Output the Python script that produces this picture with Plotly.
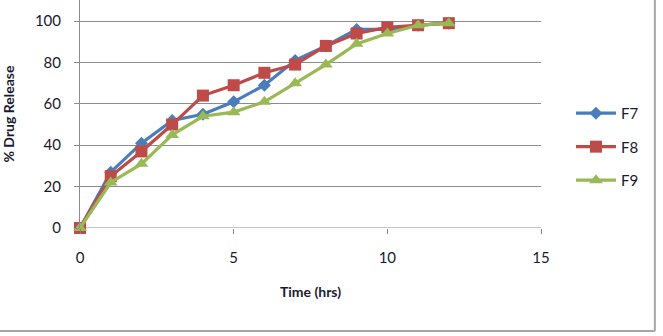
import plotly.graph_objects as go

# Cumulative drug release (%) versus time (hours)
time_hrs = [0, 1, 2, 3, 4, 5, 6, 7, 8, 9, 10, 11, 12]
f7 = [0, 27, 41, 52, 55, 61, 69, 81, 88, 96, 96, 98, 99]
f8 = [0, 25, 37, 50, 64, 69, 75, 79, 88, 94, 97, 98, 99]
f9 = [0, 22, 31, 45, 54, 56, 61, 70, 79, 89, 94, 98, 99]

series_names = ["F7", "F8", "F9"]
x_ticks = [0, 5, 10, 15]
y_ticks = [0, 20, 40, 60, 80, 100]

colors = ["#4A7EBB", "#BE4B48", "#98B954"]
symbols = ["diamond", "square", "triangle-up"]
sizes = [10, 12, 12]

font_family = "Lato, 'Open Sans', sans-serif"
text_color = "#1a1a2e"

fig = go.Figure()
for i, (name, vals) in enumerate(zip(series_names, [f7, f8, f9])):
    fig.add_trace(go.Scatter(
        x=time_hrs, y=vals, name=name, mode="lines+markers",
        legendgroup=name,
        line=dict(color=colors[i], width=3.2),
        marker=dict(symbol=symbols[i], size=sizes[i], color=colors[i],
                    line=dict(width=0)),
        cliponaxis=False,
    ))

fig.update_layout(
    width=663, height=336,
    margin=dict(l=80, r=122, t=0, b=108),
    paper_bgcolor="white", plot_bgcolor="white",
    font=dict(family=font_family, size=15, color=text_color),
    showlegend=True,
    legend=dict(
        x=1.065, y=0.575, xanchor="left", yanchor="top",
        font=dict(size=15, color=text_color),
        tracegroupgap=11, itemwidth=40,
        bgcolor="rgba(0,0,0,0)",
    ),
    xaxis=dict(
        range=[0, 15], tickvals=x_ticks, ticktext=[str(v) for v in x_ticks],
        showgrid=False, zeroline=False,
        showline=False, ticks="outside", ticklen=5, tickcolor="#868686",
        ticklabelstandoff=11,
        tickfont=dict(size=15, color=text_color),
        title=dict(text="<b>Time (hrs)</b>", font=dict(size=14, color=text_color),
                   standoff=22),
    ),
    yaxis=dict(
        range=[0, 110.2], tickvals=y_ticks, ticktext=[str(v) for v in y_ticks],
        showgrid=True, gridcolor="#8c8c8c", gridwidth=1,
        zeroline=False, showline=True, linecolor="#8c8c8c", linewidth=1,
        ticks="outside", ticklen=5, tickcolor="#8c8c8c",
        ticklabelstandoff=10,
        tickfont=dict(size=15, color=text_color),
        title=dict(text="<b>% Drug Release</b>", font=dict(size=14, color=text_color),
                   standoff=24),
    ),
)

# x axis baseline and chart frame edges
fig.add_shape(type="line", xref="x", yref="y", x0=0, x1=15, y0=0, y1=0,
              line=dict(color="#8c8c8c", width=1), layer="below")
fig.add_shape(type="line", xref="paper", yref="paper", x0=1.247, x1=1.247,
              y0=-0.452, y1=1.2, line=dict(color="#a6a6a6", width=2))
fig.add_shape(type="line", xref="paper", yref="paper", x0=-0.3, x1=1.247,
              y0=-0.452, y1=-0.452, line=dict(color="#a6a6a6", width=2))

fig.write_html("out.html")
